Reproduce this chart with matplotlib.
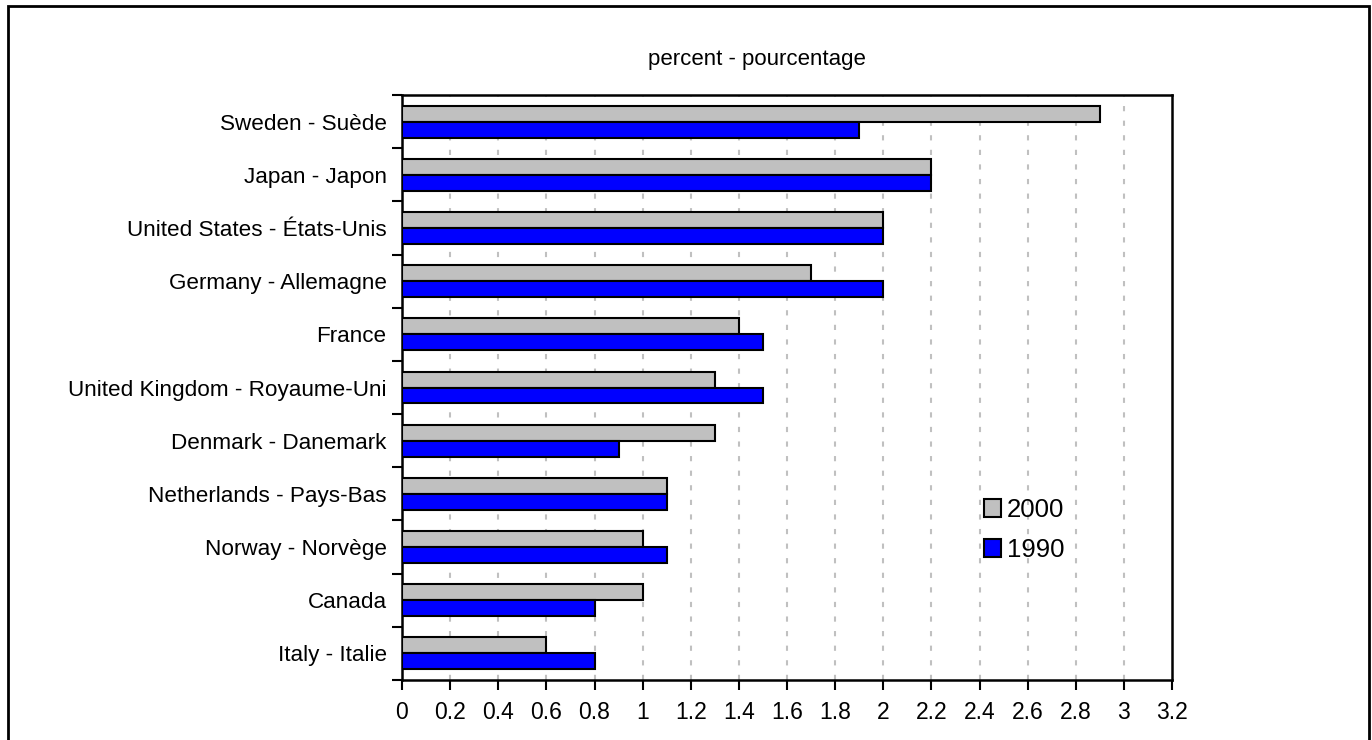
import numpy as np
import matplotlib.pyplot as plt
from matplotlib.patches import Rectangle, Patch

plt.rcParams['font.family'] = ['Liberation Sans', 'DejaVu Sans']

## data (top to bottom as in the chart)
countries = ['Sweden - Suède', 'Japan - Japon', 'United States - États-Unis',
             'Germany - Allemagne', 'France', 'United Kingdom - Royaume-Uni',
             'Denmark - Danemark', 'Netherlands - Pays-Bas', 'Norway - Norvège',
             'Canada', 'Italy - Italie']
val_2000 = [2.9, 2.2, 2.0, 1.7, 1.4, 1.3, 1.3, 1.1, 1.0, 1.0, 0.6]
val_1990 = [1.9, 2.2, 2.0, 2.0, 1.5, 1.5, 0.9, 1.1, 1.1, 0.8, 0.8]
xticks = [0, 0.2, 0.4, 0.6, 0.8, 1, 1.2, 1.4, 1.6, 1.8, 2, 2.2, 2.4, 2.6, 2.8, 3, 3.2]
xtick_labels = ['0', '0.2', '0.4', '0.6', '0.8', '1', '1.2', '1.4', '1.6', '1.8',
                '2', '2.2', '2.4', '2.6', '2.8', '3', '3.2']

grey = '#C0C0C0'
blue = '#0000FF'

W, H = 1372, 740
fig = plt.figure(figsize=(W / 100, H / 100), dpi=100)
ax = fig.add_axes([402 / W, 1 - 680 / H, (1172 - 402) / W, (680 - 95) / H])

n = len(countries)
pos = np.arange(n)[::-1]  # Sweden at top
h = 0.3
ax.barh(pos + h / 2, val_2000, h, color=grey, edgecolor='black', linewidth=1.5, zorder=3)
ax.barh(pos - h / 2, val_1990, h, color=blue, edgecolor='black', linewidth=1.5, zorder=3)

ax.set_xlim(0, 3.2)
ax.set_ylim(-0.5, n - 0.5)

# x axis
ax.set_xticks(xticks)
ax.set_xticklabels(xtick_labels, fontsize=16.5)
ax.tick_params(axis='x', direction='out', length=7, width=1.5, pad=8)
for x in xticks[1:-1]:
    ax.axvline(x, color=grey, linewidth=1.5, linestyle=(0, (2.5, 4.5)), zorder=1)

# y axis: ticks on category boundaries, labels at centres
ax.set_yticks(np.arange(-0.5, n, 1))
ax.set_yticklabels([])
ax.set_yticks(pos, minor=True)
ax.set_yticklabels(countries, minor=True, fontsize=16.2)
ax.tick_params(axis='y', which='major', direction='out', length=7, width=1.5)
ax.tick_params(axis='y', which='minor', length=0, pad=11)

for s in ax.spines.values():
    s.set_linewidth(1.8)

fig.text(757 / W, 1 - 59 / H, 'percent - pourcentage', fontsize=16,
         ha='center', va='center')

handles = [Patch(facecolor=grey, edgecolor='black', linewidth=1.5),
           Patch(facecolor=blue, edgecolor='black', linewidth=1.5)]
fig.legend(handles, ['2000', '1990'], loc='center left',
           bbox_to_anchor=(961 / W, 1 - 530 / H), frameon=False, fontsize=18.5,
           handlelength=0.66, handleheight=0.66, handletextpad=0.22, labelspacing=0.62)

# outer frame
fig.patches.append(Rectangle((8 / W, -0.05), (1369 - 8) / W, 1.05 - 6 / H,
                             transform=fig.transFigure, fill=False,
                             edgecolor='black', linewidth=2))

fig.savefig('out.png', dpi=100)
